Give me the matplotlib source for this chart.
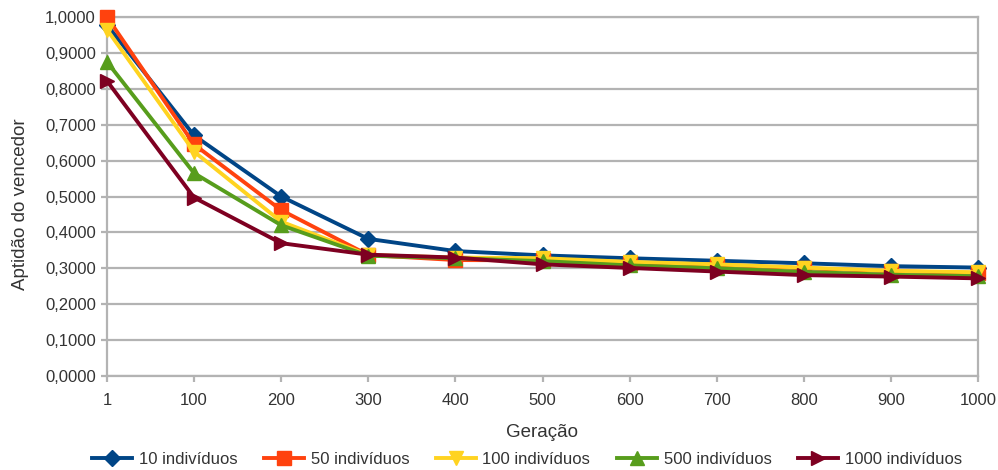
import matplotlib.pyplot as plt
from matplotlib.ticker import FuncFormatter

geracao = ['1', '100', '200', '300', '400', '500', '600', '700', '800', '900', '1000']

ind_10 = [0.978, 0.670, 0.500, 0.382, 0.348, 0.336, 0.328, 0.321, 0.314, 0.306, 0.302]
ind_50 = [1.000, 0.645, 0.462, 0.337, 0.323, 0.322, 0.316, 0.310, 0.300, 0.292, 0.287]
ind_100 = [0.965, 0.625, 0.430, 0.337, 0.330, 0.328, 0.318, 0.311, 0.302, 0.293, 0.289]
ind_500 = [0.875, 0.565, 0.420, 0.335, 0.328, 0.320, 0.308, 0.300, 0.290, 0.282, 0.278]
ind_1000 = [0.822, 0.497, 0.370, 0.338, 0.330, 0.311, 0.301, 0.291, 0.281, 0.277, 0.272]

series = [
    ('10 indivíduos', ind_10, '#004586', 'D'),
    ('50 indivíduos', ind_50, '#ff420e', 's'),
    ('100 indivíduos', ind_100, '#ffd320', 'v'),
    ('500 indivíduos', ind_500, '#579d1c', '^'),
    ('1000 indivíduos', ind_1000, '#7e0021', '>'),
]

plt.rcParams['font.family'] = ['Liberation Sans', 'DejaVu Sans']
grid_col = '#b3b3b3'
txt_col = '#333333'

fig = plt.figure(figsize=(9.98, 4.70), dpi=100)
ax = fig.add_axes([0.1072, 0.2, 0.8728, 0.7638])

x = range(len(geracao))
for name, vals, col, mk in series:
    ms = 8.5 if mk == 'D' else 9.5
    ax.plot(x, vals, color=col, lw=2.8, marker=mk, markersize=ms,
            label=name, clip_on=False, zorder=3)

ax.set_xlim(0, len(geracao) - 1)
ax.set_ylim(0, 1)
ax.set_xticks(list(x))
ax.set_xticklabels(geracao)
ax.set_yticks([i / 10 for i in range(11)])
ax.yaxis.set_major_formatter(FuncFormatter(lambda v, p: ('%.4f' % v).replace('.', ',')))

ax.grid(axis='y', color=grid_col, lw=1.6)
ax.set_axisbelow(True)
for s in ax.spines.values():
    s.set_color(grid_col)
    s.set_linewidth(1.6)
ax.tick_params(axis='both', colors=grid_col, labelcolor=txt_col, labelsize=12,
               length=4, width=1.6)
ax.tick_params(axis='x', pad=8)
ax.tick_params(axis='y', pad=4)

fig.text(0.543, 0.079, 'Geração', ha='center', va='center', fontsize=13.5, color=txt_col)
fig.text(0.021, 0.565, 'Aptidão do vencedor', ha='center', va='center',
         rotation=90, fontsize=13.5, color=txt_col)

fig.legend(loc='center', bbox_to_anchor=(0.528, 0.022), ncol=5, frameon=False,
           fontsize=12, handlelength=2.4, handletextpad=0.4, columnspacing=1.6,
           labelcolor=txt_col)

plt.savefig('out.png', dpi=100)
